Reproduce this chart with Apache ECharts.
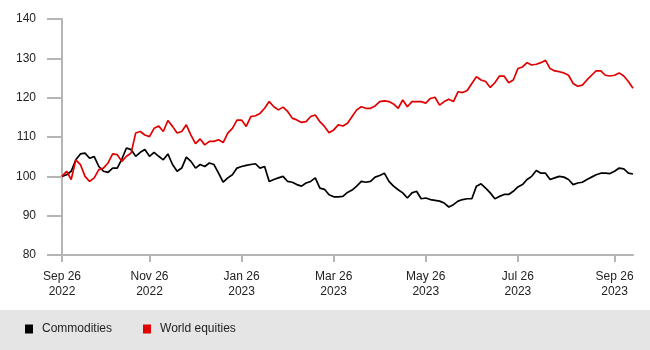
<!DOCTYPE html>
<html>
<head>
<meta charset="utf-8">
<script src="https://cdn.jsdelivr.net/npm/echarts@6/dist/echarts.min.js"></script>
<style>html,body{margin:0;padding:0;background:#fff}#c{width:650px;height:350px}</style>
</head>
<body>
<div id="c"></div>
<script>
var tickLabels = ['Sep 26\n2022', 'Nov 26\n2022', 'Jan 26\n2023', 'Mar 26\n2023', 'May 26\n2023', 'Jul 26\n2023', 'Sep 26\n2023'];
var tickIndices = [0, 19, 39, 59, 79, 99, 120];
var commodities = [
100, 100.4, 101.3, 104.2, 105.7, 105.9, 104.6, 105, 102.5, 101.3,
101, 102.1, 102.1, 104.4, 107.2, 106.8, 105.1, 106.1, 106.8, 105.1,
106.1, 105.1, 104.2, 105.7, 103, 101.3, 102.1, 104.9, 103.8, 102.1,
103, 102.5, 103.4, 103, 100.8, 98.5, 99.6, 100.4, 102.1, 102.5,
102.8, 103, 103.2, 102.1, 102.5, 98.7, 99.2, 99.6, 100, 98.7,
98.5, 97.9, 97.5, 98.3, 98.7, 99.6, 97, 96.7, 95.3, 94.8,
94.8, 94.9, 95.9, 96.5, 97.5, 98.7, 98.5, 98.7, 99.8, 100.2,
100.8, 98.7, 97.5, 96.6, 95.8, 94.5, 95.8, 96.2, 94.3, 94.5,
94.1, 93.9, 93.7, 93.2, 92.2, 92.8, 93.7, 94.1, 94.3, 94.3,
97.5, 98.1, 97, 95.8, 94.3, 94.9, 95.4, 95.4, 96.2, 97.3,
97.9, 99.2, 100, 101.5, 100.8, 100.8, 99.2, 99.6, 100, 99.8,
99.2, 97.9, 98.3, 98.5, 99.2, 99.8, 100.4, 100.8, 100.8, 100.7,
101.3, 102.1, 101.9, 100.8, 100.6
];
var worldEquities = [
100, 101.3, 99.2, 104.2, 103, 100, 98.7, 99.6, 101.7, 102.1,
103.4, 105.7, 105.5, 103.8, 105.1, 105.9, 111, 111.4, 110.5, 110.1,
112.2, 112.8, 111.4, 114.2, 112.7, 111, 111.4, 113.1, 110.5, 108.3,
109.5, 108, 108.9, 108.9, 109.3, 108.6, 111, 112.2, 114.3, 114.3,
112.7, 115.2, 115.4, 116, 117.3, 119, 117.7, 116.9, 117.6, 116.5,
114.8, 114.3, 113.7, 113.9, 115.2, 115.6, 113.9, 112.7, 111.1, 111.8,
113.1, 112.8, 113.5, 115.2, 116.9, 117.7, 117.3, 117.3, 117.9, 119,
119.2, 119, 118.4, 117.3, 119.4, 117.7, 119, 119, 119, 118.6,
119.8, 120.1, 118.1, 119, 119.6, 119, 121.5, 121.3, 121.8, 123.6,
125.3, 124.5, 124.1, 122.6, 123.8, 125.5, 125.5, 123.8, 124.5, 127.4,
127.8, 128.9, 128.3, 128.5, 128.9, 129.5, 127.4, 126.8, 126.6, 126.3,
125.7, 123.6, 122.9, 123.2, 124.5, 125.7, 126.8, 126.8, 125.7, 125.5,
125.7, 126.3, 125.5, 124.1, 122.4
];
var categories = [];
for (var i = 0; i < commodities.length; i++) categories.push(String(i));

var chart = echarts.init(document.getElementById('c'), null, {renderer: 'canvas'});
var font = 'Liberation Sans, Arial, Helvetica, sans-serif';
var showTick = function (idx) { return tickIndices.indexOf(idx) >= 0; };
chart.setOption({
  animation: false,
  backgroundColor: '#ffffff',
  graphic: [{
    type: 'rect', left: 0, top: 310, z: -10, silent: true,
    shape: {width: 650, height: 40},
    style: {fill: '#e5e5e5'}
  }],
  legend: {
    left: 25, top: 323, padding: 0,
    icon: 'rect', itemWidth: 8, itemHeight: 9, itemGap: 31,
    textStyle: {fontFamily: font, fontSize: 12, color: '#222', padding: [0, 0, 0, 4]},
    data: ['Commodities', 'World equities']
  },
  grid: {left: 62, right: 17, top: 19, bottom: 95, containLabel: false},
  xAxis: {
    type: 'category', data: categories, boundaryGap: false,
    axisLine: {show: true, lineStyle: {color: '#b5b5b5', width: 2}},
    axisTick: {show: true, length: 7, interval: function (idx) { return showTick(idx); }, lineStyle: {color: '#b5b5b5', width: 2}},
    axisLabel: {
      interval: function (idx) { return showTick(idx); },
      formatter: function (v, idx) { var k = tickIndices.indexOf(idx); return k >= 0 ? tickLabels[k] : ''; },
      margin: 14, lineHeight: 15, fontFamily: font, fontSize: 12, color: '#222'
    },
    splitLine: {show: false}
  },
  yAxis: {
    type: 'value', min: 80, max: 140, interval: 10,
    axisLine: {show: true, lineStyle: {color: '#b5b5b5', width: 2}},
    axisTick: {show: true, length: 15, lineStyle: {color: '#b5b5b5', width: 2}},
    axisLabel: {margin: 26, fontFamily: font, fontSize: 12, color: '#222'},
    splitLine: {show: false}
  },
  series: [
    {name: 'Commodities', type: 'line', data: commodities, showSymbol: false, symbol: 'none',
     itemStyle: {color: '#000000'}, lineStyle: {color: '#000000', width: 1.7}},
    {name: 'World equities', type: 'line', data: worldEquities, showSymbol: false, symbol: 'none',
     itemStyle: {color: '#e10000'}, lineStyle: {color: '#e10000', width: 1.7}}
  ]
});
</script>
</body>
</html>
